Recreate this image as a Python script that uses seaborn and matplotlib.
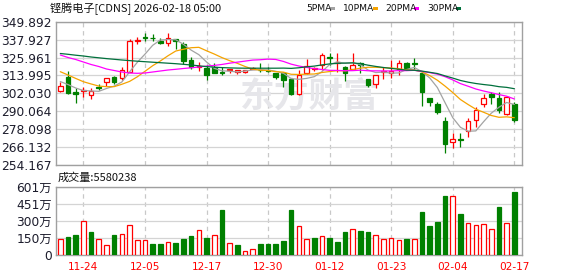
import numpy as np
import pandas as pd
import matplotlib
matplotlib.use("Agg")
import matplotlib.pyplot as plt
from matplotlib.patches import Rectangle
import seaborn as sns

# ---------------- data ----------------
dates = ["11-19", "11-20", "11-21", "11-24", "11-25", "11-26", "11-28", "12-01", "12-02", "12-03",
         "12-04", "12-05", "12-08", "12-09", "12-10", "12-11", "12-12", "12-15", "12-16", "12-17",
         "12-18", "12-19", "12-22", "12-23", "12-24", "12-26", "12-29", "12-30", "12-31", "01-02",
         "01-05", "01-06", "01-07", "01-08", "01-09", "01-12", "01-13", "01-14", "01-15", "01-16",
         "01-20", "01-21", "01-22", "01-23", "01-26", "01-27", "01-28", "01-29", "01-30", "02-02",
         "02-03", "02-04", "02-05", "02-06", "02-09", "02-10", "02-11", "02-12", "02-13", "02-17"]
label_dates = ["11-24", "12-05", "12-17", "12-30", "01-12", "01-23", "02-04", "02-17"]

opens = [303.8, 312.75, 302.6, 303.7, 300.9, 306.6, 309.4, 312.75, 311.95, 316.5,
         336.9, 339.6, 339.3, 337.0, 335.7, 338.1, 335.0, 324.3, 319.7, 319.0,
         319.3, 316.3, 317.9, 316.0, 316.5, 318.2, 317.7, 317.5, 315.6, 315.6,
         311.6, 301.6, 315.4, 318.3, 321.0, 326.0, 322.4, 319.6, 318.1, 322.5,
         311.3, 308.1, 316.6, 315.6, 318.3, 322.5, 322.5, 315.8, 298.7, 294.9,
         283.4, 269.7, 271.6, 276.9, 284.0, 294.7, 301.6, 298.7, 288.0, 294.9]
highs = [309.8, 317.2, 305.4, 306.6, 305.3, 308.3, 312.2, 313.6, 319.3, 338.3,
         339.9, 342.1, 341.7, 338.7, 342.1, 338.3, 336.0, 326.5, 323.2, 321.0,
         322.6, 319.8, 318.5, 317.7, 317.9, 319.4, 322.6, 319.9, 315.8, 316.5,
         312.3, 317.6, 324.8, 319.8, 329.0, 329.2, 328.8, 320.0, 328.8, 323.2,
         311.4, 314.5, 319.8, 324.3, 324.3, 323.2, 325.4, 316.5, 298.8, 296.5,
         286.4, 275.3, 275.3, 285.6, 292.6, 301.6, 303.1, 303.1, 300.3, 296.3]
lows = [303.1, 301.6, 295.8, 299.9, 298.3, 304.3, 306.9, 308.3, 310.9, 316.0,
        335.0, 337.2, 337.2, 334.7, 333.7, 331.6, 321.6, 318.1, 317.2, 310.9,
        315.3, 314.3, 315.4, 314.9, 315.4, 318.0, 316.3, 316.5, 311.6, 306.5,
        300.9, 300.6, 314.9, 317.2, 317.3, 321.0, 316.5, 310.5, 318.0, 315.4,
        306.5, 305.4, 311.3, 312.6, 314.6, 318.1, 318.1, 293.6, 293.6, 288.4,
        262.4, 265.7, 266.4, 273.2, 279.7, 292.9, 294.9, 288.9, 287.6, 282.6]
closes = [306.9, 302.5, 301.4, 304.6, 303.6, 305.6, 312.0, 309.3, 317.6, 337.3,
          337.5, 339.3, 338.8, 335.5, 338.7, 337.0, 323.8, 319.6, 320.3, 314.3,
          315.8, 315.4, 318.4, 317.6, 317.8, 319.2, 317.4, 317.0, 313.0, 310.9,
          301.6, 314.3, 320.3, 318.7, 327.6, 325.6, 322.8, 315.6, 321.0, 320.9,
          307.6, 314.3, 316.8, 317.1, 322.1, 318.8, 321.4, 303.1, 296.5, 289.8,
          268.2, 271.3, 270.9, 283.4, 290.9, 298.7, 299.8, 290.9, 299.4, 284.2]
prev_close = 304.0

ma5 = [309.9, 307.9, 305.6, 303.9, 303.64, 303.38, 305.28, 306.86, 309.62, 316.36,
       322.74, 328.2, 334.1, 337.68, 337.96, 337.86, 334.76, 330.92, 327.88, 323.0,
       318.76, 317.08, 316.84, 316.3, 316.96, 317.64, 317.92, 317.68, 316.76, 315.42,
       311.9, 311.4, 312.02, 313.16, 316.5, 321.3, 323.0, 322.06, 322.52, 321.2,
       317.6, 315.9, 316.28, 315.48, 315.7, 317.94, 319.36, 316.48, 312.38, 305.92,
       295.8, 285.78, 279.34, 276.72, 276.94, 283.04, 288.74, 292.74, 295.94, 294.6]
ma10 = [316.5, 314.3, 312.0, 309.8, 308.3, 306.9, 306.5, 306.5, 308.1, 310.0,
        313.06, 316.74, 320.48, 323.65, 327.16, 330.3, 331.48, 332.51, 332.78, 330.48,
        328.31, 325.92, 323.88, 322.09, 319.98, 318.2, 317.5, 317.26, 316.53, 316.19,
        314.77, 314.66, 314.85, 314.96, 315.96, 316.6, 317.2, 317.04, 317.84, 318.85,
        319.45, 319.45, 319.17, 319.0, 318.45, 317.77, 317.63, 316.38, 313.93, 310.81,
        306.87, 302.57, 297.91, 294.55, 291.43, 289.42, 287.26, 286.04, 286.33, 285.77]
ma20 = [327.65, 325.98, 324.64, 322.97, 321.30, 319.97, 318.30, 317.29, 316.29, 315.62,
        315.42, 315.62, 316.29, 316.96, 317.63, 318.10, 318.63, 319.10, 319.63, 320.24,
        320.69, 321.33, 322.18, 322.87, 323.57, 324.25, 324.49, 324.89, 324.66, 323.34,
        321.54, 320.29, 319.37, 318.53, 317.97, 317.4, 317.35, 317.15, 317.19, 317.52,
        317.11, 317.06, 317.01, 316.98, 317.21, 317.19, 317.42, 316.71, 315.89, 314.83,
        313.16, 311.01, 308.54, 306.78, 304.94, 303.6, 302.45, 301.21, 300.13, 298.29]
ma30 = [328.65, 328.12, 327.51, 326.98, 326.31, 325.78, 325.24, 324.78, 324.31, 323.91,
        323.51, 323.17, 322.84, 322.50, 322.17, 321.84, 321.43, 320.96, 320.43, 319.90,
        319.5, 319.23, 319.03, 318.90, 318.83, 318.83, 318.83, 318.83, 318.83, 318.89,
        318.71, 319.11, 319.74, 320.23, 321.03, 321.7, 322.06, 322.27, 322.38, 321.84,
        320.84, 320.01, 319.3, 318.68, 318.13, 317.52, 317.44, 316.89, 316.1, 315.28,
        313.7, 312.23, 310.64, 309.5, 308.61, 307.93, 307.36, 306.49, 306.03, 305.14]

volumes = [1370000, 1550000, 1720000, 2950000, 2010000, 1370000, 850000, 1720000, 1890000, 2680000,
           1280000, 1280000, 960000, 960000, 1110000, 1050000, 1370000, 1660000, 2240000, 1480000,
           1800000, 3990000, 1020000, 850000, 320000, 500000, 960000, 960000, 960000, 1220000,
           3990000, 2590000, 1370000, 1480000, 1630000, 1480000, 1130000, 2010000, 2330000, 2090000,
           2010000, 1720000, 1370000, 1460000, 1280000, 1370000, 1370000, 3750000, 2530000, 2880000,
           5230000, 5200000, 3580000, 2850000, 2680000, 2760000, 2330000, 4190000, 2850000, 5580238]

price_ticks = [254.167, 266.132, 278.098, 290.064, 302.030, 313.995, 325.961, 337.927, 349.892]
vol_tick_labels = ["0", "150万", "300万", "451万", "601万"]
vol_axis_max = 6010000
ma_names = ["5PMA", "10PMA", "20PMA", "30PMA"]
title = "铿腾电子[CDNS] 2026-02-18 05:00"

# ---------------- style ----------------
sns.set_style("white")
plt.rcParams['font.family'] = ['DejaVu Sans', 'Noto Sans CJK SC']

RED = "#ff0000"
GREEN = "#008000"
ma_colors = {"5PMA": "#a3a3a3", "10PMA": "#f5a300", "20PMA": "#ff00ff", "30PMA": "#00703c"}
GRID = "#d4d4d4"
BORDER = "#a0a0a0"
TXT = "#1c1c2c"

W, H = 578, 276
fig = plt.figure(figsize=(W / 100, H / 100), dpi=100)
fig.patch.set_facecolor("white")


def fx(p):
    return p / W


def fy(p):
    return 1 - p / H


ax = fig.add_axes([fx(56), fy(165), fx(522) - fx(56), fy(21.7) - fy(165)])
axv = fig.add_axes([fx(56), fy(255), fx(522) - fx(56), fy(186.7) - fy(255)])

n = len(closes)
x = np.arange(n)
bw = 0.6

# candles
for i in range(n):
    o, h, l, c = opens[i], highs[i], lows[i], closes[i]
    up = c >= o
    col = RED if up else GREEN
    ax.vlines(i, l, h, color=col, lw=0.9, zorder=2)
    body = max(abs(c - o), 0.45)
    ax.bar(i, body, bottom=min(o, c), width=bw,
           facecolor="white" if up else col, edgecolor=col, linewidth=0.9, zorder=3)

# moving averages
df = pd.DataFrame({
    "idx": np.tile(x, 4),
    "val": ma5 + ma10 + ma20 + ma30,
    "ma": sum([[m] * n for m in ma_names], []),
})
sns.lineplot(data=df, x="idx", y="val", hue="ma", palette=ma_colors, ax=ax,
             legend=False, linewidth=0.9, zorder=4)

ax.set_xlim(-0.56, n - 0.0)
ax.set_ylim(price_ticks[0], price_ticks[-1])
ax.set_yticks(price_ticks)
ax.set_yticklabels([f"{t:.3f}" for t in price_ticks])
label_idx = [dates.index(d) for d in label_dates]
ax.set_xticks(label_idx)
ax.set_xticklabels([])
ax.set_xlabel("")
ax.set_ylabel("")

# volume
pcs = [prev_close] + closes[:-1]
for i in range(n):
    up = closes[i] >= pcs[i]
    col = RED if up else GREEN
    axv.bar(i, volumes[i], width=bw, facecolor="white" if up else col,
            edgecolor=col, linewidth=0.9, zorder=3)
axv.set_xlim(ax.get_xlim())
axv.set_ylim(0, vol_axis_max)
axv.set_yticks(np.linspace(0, vol_axis_max, len(vol_tick_labels)))
axv.set_yticklabels(vol_tick_labels)
axv.set_xticks(label_idx)
axv.set_xticklabels(label_dates)

for a in (ax, axv):
    a.set_axisbelow(True)
    a.grid(axis="y", color=GRID, lw=0.9, ls="-")
    a.grid(axis="x", color="#c8c8c8", lw=0.9, ls=(0, (3.5, 3)))
    for s in a.spines.values():
        s.set_color(BORDER)
        s.set_linewidth(1.0)
        s.set_visible(True)
    a.tick_params(axis="both", length=0)
    a.tick_params(axis="y", labelsize=8.8, labelcolor=TXT, pad=3)

axv.tick_params(axis="x", labelsize=7.6, labelcolor=RED, pad=5)

# watermark
ax.text(fx(309), fy(96), "东方财富", transform=fig.transFigure, ha="center", va="center",
        fontsize=25, color="#e6e6ea", fontweight="bold", family=["Noto Sans CJK SC"], zorder=0.6)

# header texts
fig.text(fx(50), fy(8.5), title, ha="left", va="center", fontsize=8,
         family=["Noto Sans CJK SC", "DejaVu Sans"], color="#111111")
leg_x = [306, 343, 385, 427]
for name, lx in zip(ma_names, leg_x):
    t = fig.text(fx(lx), fy(8.7), name, ha="left", va="center", fontsize=6.6, color="#111111")
sq_x = [330, 373, 414, 456]
for name, sx in zip(ma_names, sq_x):
    fig.add_artist(Rectangle((fx(sx), fy(9.6)), 5 / W, 3 / H, transform=fig.transFigure,
                             facecolor=ma_colors[name], edgecolor="none"))

fig.text(fx(58), fy(177.5), f"成交量:{volumes[-1]}", ha="left", va="center", fontsize=8,
         family=["Noto Sans CJK SC", "DejaVu Sans"], color="#111111")

fig.savefig("out.png", dpi=100, facecolor="white")
